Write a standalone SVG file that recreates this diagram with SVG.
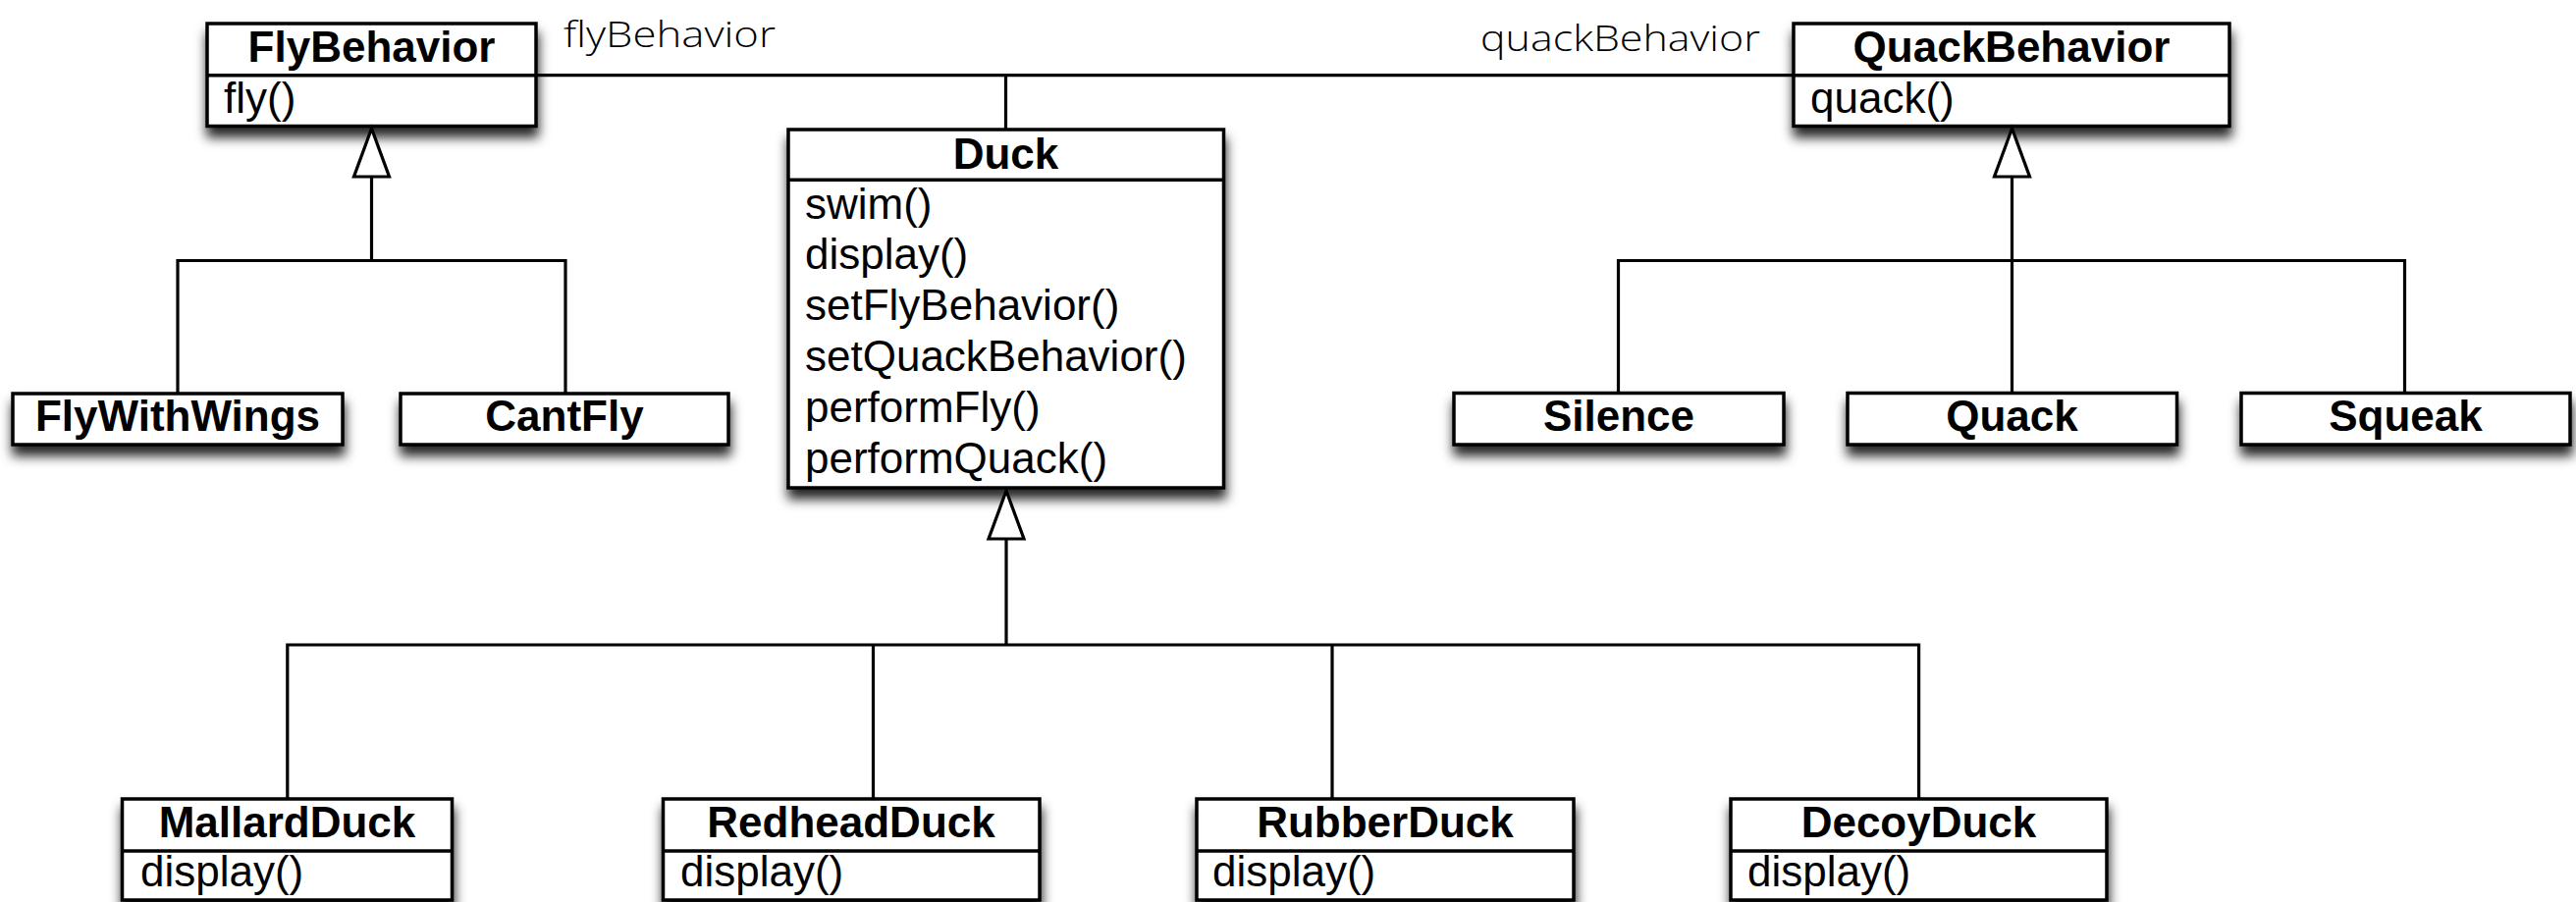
<svg xmlns="http://www.w3.org/2000/svg" width="2624" height="919" viewBox="0 0 2624 919">
<style>
.box{fill:#fff;stroke:#000;stroke-width:3.5}
.sep{stroke:#000;stroke-width:3.5}
.title{font-family:"Liberation Sans",Arial,Helvetica,sans-serif;font-weight:bold;font-size:44px;text-anchor:middle;fill:#000}
.op{font-family:"Liberation Sans",Arial,Helvetica,sans-serif;font-size:44px;fill:#000}
.conn{stroke:#000;stroke-width:3.2;fill:none}
.gen{stroke:#000;stroke-width:3.2;fill:none;marker-end:url(#tri)}
.role{font-family:"Open Sans","Liberation Sans",sans-serif;font-weight:300;font-size:36px;fill:#000}
</style>
<defs>
<filter id="sh" x="-15%" y="-40%" width="130%" height="200%">
<feDropShadow dx="1" dy="10" stdDeviation="6" flood-color="#000" flood-opacity="0.85"/>
</filter>
<marker id="tri" markerUnits="userSpaceOnUse" viewBox="-52 -20 54 40" refX="0" refY="0" markerWidth="54" markerHeight="40" orient="auto" overflow="visible">
<path d="M0,0 L-49,-18 L-49,18 Z" fill="#fff" stroke="#000" stroke-width="3.2" stroke-linejoin="miter"/>
</marker>
</defs>
<rect width="2624" height="919" fill="#fff"/>

<g id="FlyBehavior">
<rect class="box" filter="url(#sh)" x="211" y="24" width="335" height="104.5"/>
<line class="sep" x1="211" y1="76.7" x2="546" y2="76.7"/>
<text class="title" x="378.5" y="63">FlyBehavior</text>
<text class="op" x="228" y="115">fly()</text>
</g>

<g id="QuackBehavior">
<rect class="box" filter="url(#sh)" x="1827" y="24" width="444" height="104.5"/>
<line class="sep" x1="1827" y1="76.7" x2="2271" y2="76.7"/>
<text class="title" x="2049" y="63">QuackBehavior</text>
<text class="op" x="1844" y="115">quack()</text>
</g>

<g id="Duck">
<rect class="box" filter="url(#sh)" x="803" y="132" width="443.5" height="365"/>
<line class="sep" x1="803" y1="183.3" x2="1246.5" y2="183.3"/>
<text class="title" x="1024.5" y="171.5">Duck</text>
<text class="op" x="820" y="222.5">swim()</text>
<text class="op" x="820" y="274.3">display()</text>
<text class="op" x="820" y="326.1">setFlyBehavior()</text>
<text class="op" x="820" y="377.9">setQuackBehavior()</text>
<text class="op" x="820" y="429.7">performFly()</text>
<text class="op" x="820" y="481.5">performQuack()</text>
</g>

<g id="FlyWithWings">
<rect class="box" filter="url(#sh)" x="13" y="401" width="336" height="52"/>
<text class="title" x="181" y="439">FlyWithWings</text>
</g>
<g id="CantFly">
<rect class="box" filter="url(#sh)" x="408" y="401" width="334" height="52"/>
<text class="title" x="575" y="439">CantFly</text>
</g>

<g id="Silence">
<rect class="box" filter="url(#sh)" x="1481" y="400.5" width="336" height="52.5"/>
<text class="title" x="1649" y="439">Silence</text>
</g>
<g id="Quack">
<rect class="box" filter="url(#sh)" x="1882" y="400.5" width="335.5" height="52.5"/>
<text class="title" x="2049.5" y="439">Quack</text>
</g>
<g id="Squeak">
<rect class="box" filter="url(#sh)" x="2283" y="400.5" width="335" height="52.5"/>
<text class="title" x="2450.5" y="439">Squeak</text>
</g>

<g id="MallardDuck">
<rect class="box" filter="url(#sh)" x="124.5" y="814" width="336" height="103"/>
<line class="sep" x1="124.5" y1="867" x2="460.5" y2="867"/>
<text class="title" x="292.5" y="853">MallardDuck</text>
<text class="op" x="143" y="903">display()</text>
</g>
<g id="RedheadDuck">
<rect class="box" filter="url(#sh)" x="675.5" y="814" width="383.5" height="103"/>
<line class="sep" x1="675.5" y1="867" x2="1059" y2="867"/>
<text class="title" x="867" y="853">RedheadDuck</text>
<text class="op" x="693" y="903">display()</text>
</g>
<g id="RubberDuck">
<rect class="box" filter="url(#sh)" x="1219" y="814" width="384" height="103"/>
<line class="sep" x1="1219" y1="867" x2="1603" y2="867"/>
<text class="title" x="1411" y="853">RubberDuck</text>
<text class="op" x="1235" y="903">display()</text>
</g>
<g id="DecoyDuck">
<rect class="box" filter="url(#sh)" x="1763" y="814" width="383" height="103"/>
<line class="sep" x1="1763" y1="867" x2="2146" y2="867"/>
<text class="title" x="1954.5" y="853">DecoyDuck</text>
<text class="op" x="1780" y="903">display()</text>
</g>

<g id="connectors">
<path class="conn" d="M546,76.7 H1827 M1024.5,76.7 V132"/>
<text class="role" x="574" y="48" textLength="216" lengthAdjust="spacingAndGlyphs">flyBehavior</text>
<text class="role" x="1508" y="52" textLength="285" lengthAdjust="spacingAndGlyphs">quackBehavior</text>
<path class="conn" d="M181,401 V265.5 H576 V401"/>
<path class="gen" d="M378.5,265.5 V131"/>
<path class="conn" d="M1648.5,400.5 V265.5 H2449.5 V400.5"/>
<path class="gen" d="M2049.5,400.5 V131"/>
<path class="conn" d="M292.8,814 V657 H1954.6 V814 M889.5,657 V814 M1357,657 V814"/>
<path class="gen" d="M1025,657 V500"/>
</g>
</svg>
